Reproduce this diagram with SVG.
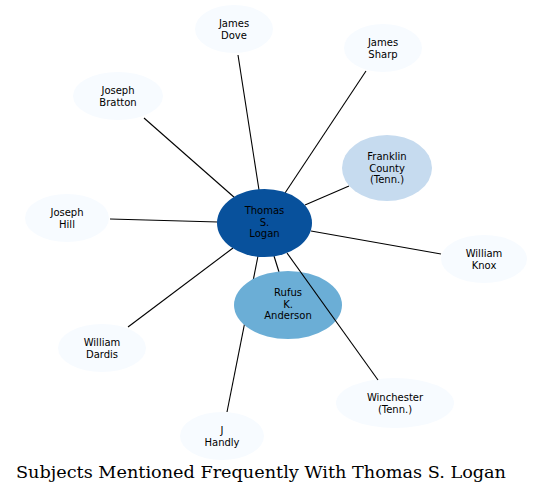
<svg xmlns="http://www.w3.org/2000/svg" width="553" height="497" viewBox="0 0 553 497">
<style>
.edge{stroke:#000;stroke-width:1.1;fill:none}
.lbl{font-family:"DejaVu Sans",sans-serif;font-size:10px;fill:#000;text-anchor:middle}
.light{fill:#f7fbff}
.title{font-family:"DejaVu Serif",serif;font-size:16px;fill:#000;text-anchor:middle}
</style>
<rect width="553" height="497" fill="#fff"/>
<g id="connectors">
<line class="edge" x1="238" y1="55" x2="259" y2="190"/>
<line class="edge" x1="366" y1="71" x2="285" y2="193"/>
<line class="edge" x1="144" y1="118" x2="235" y2="198"/>
<line class="edge" x1="110" y1="219" x2="218" y2="222"/>
<line class="edge" x1="305" y1="205" x2="349" y2="186"/>
<line class="edge" x1="311" y1="231" x2="441" y2="254"/>
<line class="edge" x1="128" y1="327" x2="233" y2="248"/>
<line class="edge" x1="227" y1="412" x2="258" y2="256"/>
<line class="edge" x1="274" y1="256" x2="279" y2="272"/>
</g>
<g id="n-dove"><ellipse class="light" cx="234" cy="29" rx="39" ry="24"/><text class="lbl" x="234" y="27">James</text><text class="lbl" x="234" y="38.5">Dove</text></g>
<g id="n-sharp"><ellipse class="light" cx="383" cy="48" rx="39" ry="24"/><text class="lbl" x="383" y="46">James</text><text class="lbl" x="383" y="57.5">Sharp</text></g>
<g id="n-bratton"><ellipse class="light" cx="118" cy="96" rx="45" ry="24"/><text class="lbl" x="118" y="94">Joseph</text><text class="lbl" x="118" y="105.5">Bratton</text></g>
<g id="n-hill"><ellipse class="light" cx="67" cy="218" rx="42" ry="24"/><text class="lbl" x="67" y="216">Joseph</text><text class="lbl" x="67" y="227.5">Hill</text></g>
<g id="n-franklin"><ellipse fill="#c6dbef" cx="387" cy="168" rx="45" ry="33"/><text class="lbl" x="387" y="160">Franklin</text><text class="lbl" x="387" y="171.5">County</text><text class="lbl" x="387" y="183">(Tenn.)</text></g>
<g id="n-knox"><ellipse class="light" cx="484" cy="259" rx="43" ry="24"/><text class="lbl" x="484" y="257">William</text><text class="lbl" x="484" y="268.5">Knox</text></g>
<g id="n-dardis"><ellipse class="light" cx="102" cy="348" rx="44" ry="24"/><text class="lbl" x="102" y="346">William</text><text class="lbl" x="102" y="357.5">Dardis</text></g>
<g id="n-handly"><ellipse class="light" cx="222" cy="436" rx="42" ry="24"/><text class="lbl" x="222" y="434">J</text><text class="lbl" x="222" y="445.5">Handly</text></g>
<g id="n-winchester"><ellipse class="light" cx="395" cy="403" rx="59" ry="25"/><text class="lbl" x="395" y="401">Winchester</text><text class="lbl" x="395" y="412.5">(Tenn.)</text></g>
<g id="n-rufus"><ellipse fill="#6baed6" cx="288" cy="305" rx="54" ry="34"/><text class="lbl" x="288" y="296">Rufus</text><text class="lbl" x="288" y="307.5">K.</text><text class="lbl" x="288" y="319">Anderson</text></g>
<g id="n-logan"><ellipse fill="#08519c" cx="264.5" cy="223" rx="47.5" ry="34"/><text class="lbl" x="264.5" y="214">Thomas</text><text class="lbl" x="264.5" y="225.5">S.</text><text class="lbl" x="264.5" y="237">Logan</text></g>
<g id="connectors-top">
<line class="edge" x1="287" y1="253" x2="378" y2="380"/>
</g>
<text class="title" x="261" y="478" textLength="490" lengthAdjust="spacingAndGlyphs">Subjects Mentioned Frequently With Thomas S. Logan</text>
</svg>
